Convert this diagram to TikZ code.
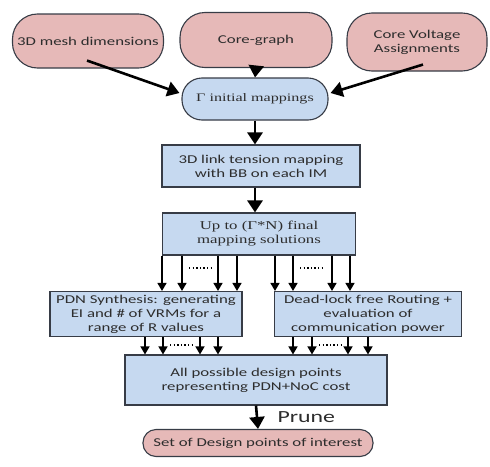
\documentclass[tikz,border=0pt]{standalone}
\usepackage{fontspec}
\setmainfont{Carlito}[FakeStretch=1.4]
\newfontfamily\timesface{Liberation Serif}[FakeStretch=1.4]
\usepackage{xcolor}
\usepackage{tikz}
\usetikzlibrary{arrows.meta, positioning, calc}

\definecolor{inpink}{RGB}{230,185,184}
\definecolor{stepblue}{RGB}{198,217,240}
\definecolor{edgegray}{RGB}{55,60,70}
\definecolor{txtgray}{RGB}{45,45,45}

\begin{document}
\begin{tikzpicture}[
    x=1pt, y=-1pt,
    oval/.style={rectangle, rounded corners=25pt, draw=edgegray, line width=1.1pt, fill=inpink,
        align=center, inner sep=1pt, text=txtgray, font=\fontsize{12}{14}\selectfont},
    stepbox/.style={rectangle, draw=edgegray, line width=1.1pt, fill=stepblue,
        align=center, inner sep=1pt, text=txtgray, font=\fontsize{12}{14}\selectfont},
    bigarrow/.style={-{Triangle[width=15pt,length=12pt]}, line width=2.6pt},
    smallarrow/.style={-{Triangle[width=9pt,length=8pt]}, line width=1.4pt},
    dots/.style={line width=1.3pt, dash pattern=on 1.4pt off 2.2pt}
]
\useasboundingbox (0,0) rectangle (490,466);

% === 输入 ===
\node[oval, minimum width=151pt, minimum height=54pt] (mesh) at (88,41) {3D mesh dimensions};
\node[oval, minimum width=152pt, minimum height=55pt] (core) at (256,40) {Core-graph};
\node[oval, minimum width=140pt, minimum height=58pt] (volt) at (417,42) {Core Voltage\\Assignments};

% === 映射 ===
\node[oval, rounded corners=20pt, fill=stepblue, minimum width=146pt, minimum height=42pt,
    font=\timesface\fontsize{11.5}{13}\selectfont] (init) at (255,99) {Γ initial mappings};
\node[stepbox, minimum width=198pt, minimum height=42pt] (link) at (261,166)
    {3D link tension mapping\\with BB on each IM};
\node[stepbox, minimum width=193pt, minimum height=42pt,
    font=\timesface\fontsize{12}{14}\selectfont] (upto) at (259,234)
    {Up to (Γ*N) final\\mapping solutions};

% === PDN / NoC ===
\node[stepbox, minimum width=192pt, minimum height=45pt] (pdn) at (146,314)
    {PDN Synthesis: generating\\EI and \# of VRMs for a\\range of R values};
\node[stepbox, minimum width=187pt, minimum height=45pt] (dead) at (368,314)
    {Dead-lock free Routing +\\evaluation of\\communication power};

% === 输出 ===
\node[stepbox, minimum width=262pt, minimum height=50pt] (all) at (256,380)
    {All possible design points\\representing PDN+NoC cost};
\node[oval, rounded corners=13pt, minimum width=230pt, minimum height=27pt] (set) at (258,443)
    {Set of Design points of interest};

% === 箭头 ===
\draw[bigarrow] ($(mesh.south)+(-1,-8)$) -- ($(init.west)+(-2,-6)$);
\draw[bigarrow] (core.south) -- (init.north);
\draw[bigarrow] ($(volt.south)+(6,-7)$) -- ($(init.east)+(2,-6)$);
\draw[bigarrow] (init.south) -- (link.north -| init.south);
\draw[bigarrow] (link.south -| init.south) -- (upto.north -| init.south);
\draw[bigarrow] (all.south) -- (set.north)
    node[midway, right=16pt, font=\fontsize{17}{19}\selectfont, text=txtgray] (prune) {Prune};

% 上层分支
\foreach \x in {162,182,218,237}
    \draw[smallarrow] (upto.south -| \x,0) -- (pdn.north -| \x,0);
\foreach \x in {275,293,332,350}
    \draw[smallarrow] (upto.south -| \x,0) -- (dead.north -| \x,0);
\draw[dots] (189,268) -- (211,268);
\draw[dots] (300,268) -- (325,268);

% 下层分支
\foreach \x in {145,163,200,218}
    \draw[smallarrow] (pdn.south -| \x,0) -- (all.north -| \x,0);
\foreach \x in {293,312,348,368}
    \draw[smallarrow] (dead.south -| \x,0) -- (all.north -| \x,0);
\draw[dots] (170,345) -- (193,345);
\draw[dots] (319,345) -- (341,345);

\end{tikzpicture}
\end{document}
